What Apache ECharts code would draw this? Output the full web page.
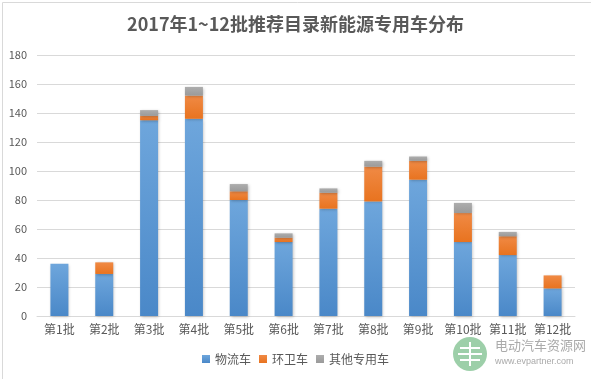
<!DOCTYPE html>
<html><head><meta charset="utf-8">
<script src="https://cdn.jsdelivr.net/npm/echarts@6/dist/echarts.min.js"></script>
<style>html,body{margin:0;padding:0;background:#fff}#c{width:591px;height:379px}</style>
</head><body><div id="c"></div>
<script>
const categories = ['第1批','第2批','第3批','第4批','第5批','第6批','第7批','第8批','第9批','第10批','第11批','第12批'];
const logistics = [36, 29, 135, 136, 80, 51, 74, 79, 94, 51, 42, 19];
const sanitation = [0, 8, 3, 16, 6, 3, 11, 24, 13, 20, 13, 9];
const other = [0, 0, 4, 6, 5, 3, 3, 4, 3, 7, 3, 0];
const seriesNames = ['物流车','环卫车','其他专用车'];
const yTicks = {min: 0, max: 180, interval: 20};

const chart = echarts.init(document.getElementById('c'));
const font = '"Noto Sans CJK SC", "Microsoft YaHei", sans-serif';
function grad(top, bottom){
  return new echarts.graphic.LinearGradient(0,0,0,1,[{offset:0,color:top},{offset:1,color:bottom}]);
}
const common = {type:'bar', stack:'total', barWidth:18,
  itemStyle:{shadowColor:'rgba(0,0,0,0.25)', shadowBlur:3, shadowOffsetX:1, shadowOffsetY:1}};
chart.setOption({
  animation:false,
  textStyle:{fontFamily:font},
  title:{text:'2017年1~12批推荐目录新能源专用车分布', left:'center', top:10,
    textStyle:{fontSize:18, fontWeight:'bold', color:'#595959', fontFamily:font}},
  grid:{left:37, right:16, top:55, bottom:63},
  legend:{bottom:9, left:'center', itemWidth:8, itemHeight:8, itemGap:8,
    icon:'rect', textStyle:{fontSize:12, color:'#595959'}, data:seriesNames},
  xAxis:{type:'category', data:categories,
    axisLine:{lineStyle:{color:'#d9d9d9'}}, axisTick:{show:false},
    axisLabel:{color:'#595959', fontSize:12, margin:7, interval:0}},
  yAxis:{type:'value', min:yTicks.min, max:yTicks.max, interval:yTicks.interval,
    axisLine:{show:false}, axisTick:{show:false},
    axisLabel:{color:'#595959', fontSize:11, margin:10},
    splitLine:{lineStyle:{color:'#d9d9d9'}}},
  series:[
    Object.assign({}, common, {name:seriesNames[0], data:logistics,
      itemStyle:Object.assign({}, common.itemStyle, {color:grad('#6ea6dc','#4a88c8')})}),
    Object.assign({}, common, {name:seriesNames[1], data:sanitation,
      itemStyle:Object.assign({}, common.itemStyle, {color:grad('#f08a45','#e8731f')})}),
    Object.assign({}, common, {name:seriesNames[2], data:other,
      itemStyle:Object.assign({}, common.itemStyle, {color:grad('#adadad','#9a9a9a')})})
  ],
  graphic:[
    {type:'rect', left:0, top:0, shape:{width:590, height:378}, style:{fill:'none', stroke:'#d9d9d9', lineWidth:1}, silent:true},
    {type:'circle', shape:{cx:470, cy:354, r:17}, style:{fill:'#8cc79a', opacity:0.85}, silent:true},
    {type:'rect', shape:{x:460, y:347, width:20, height:2}, style:{fill:'#fff'}, silent:true},
    {type:'rect', shape:{x:458, y:353, width:24, height:2}, style:{fill:'#fff'}, silent:true},
    {type:'rect', shape:{x:460, y:359, width:20, height:2}, style:{fill:'#fff'}, silent:true},
    {type:'rect', shape:{x:469, y:342, width:2, height:24}, style:{fill:'#fff'}, silent:true},
    {type:'text', left:495, top:339, style:{text:'电动汽车资源网', fill:'#aaaaaa', font:'13px '+font}, silent:true},
    {type:'text', left:495, top:357, style:{text:'www.evpartner.com', fill:'#aaaaaa', font:'9px Arial, sans-serif'}, silent:true}
  ]
});
</script></body></html>
